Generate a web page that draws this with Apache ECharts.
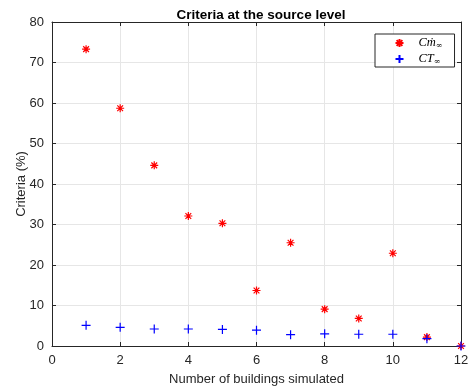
<!DOCTYPE html>
<html><head><meta charset="utf-8">
<script src="https://cdn.jsdelivr.net/npm/echarts@6/dist/echarts.min.js"></script>
<style>html,body{margin:0;padding:0;background:#fff}#c{width:470px;height:390px}</style>
</head><body><div id="c"></div>
<script>
const buildings = [1,2,3,4,5,6,7,8,9,10,11,12];
const cmInf = [73.3,58.7,44.6,32.1,30.3,13.7,25.5,9.1,6.8,22.9,2.2,0];
const ctInf = [5.1,4.6,4.2,4.2,4.1,3.9,2.8,3.0,2.9,2.9,1.8,0];
const xTicks = [0,2,4,6,8,10,12];
const yTicks = [0,10,20,30,40,50,60,70,80];

const chart = echarts.init(document.getElementById('c'));
const font = "'Liberation Sans', Arial, sans-serif";
const axCol = '#262626';
const starPath = 'path://M0,-5L0,5M-5,0L5,0M-3.6,-3.6L3.6,3.6M-3.6,3.6L3.6,-3.6';
const plusPath = 'path://M0,-5L0,5M-5,0L5,0';
function pair(a,b){return a.map((v,i)=>[v,b[i]]);}
const baseX = {type:'value',min:xTicks[0],max:xTicks[xTicks.length-1],interval:2};
const baseY = {type:'value',min:yTicks[0],max:yTicks[yTicks.length-1],interval:10};
chart.setOption({
  animation:false,
  title:{text:'Criteria at the source level',left:256,top:3,textAlign:'center',
    textStyle:{fontFamily:font,fontSize:13.5,fontWeight:'bold',color:'#000'}},
  grid:{left:52,right:9,top:22,bottom:44,outerBoundsMode:'none',containLabel:false},
  xAxis:[
    Object.assign({},baseX,{position:'bottom',name:'Number of buildings simulated',nameLocation:'middle',nameGap:27,
      nameTextStyle:{fontFamily:font,fontSize:13,color:axCol},
      axisLine:{lineStyle:{color:axCol,width:1}},axisTick:{inside:true,length:4,lineStyle:{color:axCol}},
      axisLabel:{fontFamily:font,fontSize:13,color:axCol,margin:8},
      splitLine:{show:true,lineStyle:{color:'#e6e6e6',width:1}}}),
    Object.assign({},baseX,{position:'top',axisLine:{onZero:false,lineStyle:{color:axCol,width:1}},
      axisTick:{inside:true,length:4,lineStyle:{color:axCol}},axisLabel:{show:false},splitLine:{show:false}})
  ],
  yAxis:[
    Object.assign({},baseY,{position:'left',name:'Criteria (%)',nameLocation:'middle',nameGap:24,nameMoveOverlap:false,
      nameTextStyle:{fontFamily:font,fontSize:13,color:axCol},
      axisLine:{show:true,lineStyle:{color:axCol,width:1}},axisTick:{show:true,inside:true,length:4,lineStyle:{color:axCol}},
      axisLabel:{fontFamily:font,fontSize:13,color:axCol,margin:8},
      splitLine:{show:true,lineStyle:{color:'#e6e6e6',width:1}}}),
    Object.assign({},baseY,{position:'right',axisLine:{show:true,onZero:false,lineStyle:{color:axCol,width:1}},
      axisTick:{show:true,inside:true,length:4,lineStyle:{color:axCol}},axisLabel:{show:false},splitLine:{show:false}})
  ],
  legend:{
    orient:'vertical',left:375,top:34,width:85,
    backgroundColor:'#fff',borderColor:axCol,borderWidth:1,borderRadius:0,
    padding:[2,12,1,18],itemGap:2,itemWidth:8,itemHeight:8,
    data:[{name:'Cm'},{name:'CT'}],
    formatter:function(n){return n==='Cm' ? '{g|}{i|C}{i|ṁ}{s|∞}' : '{g|}{i|CT}{s|∞}';},
    textStyle:{rich:{
      g:{width:10,lineHeight:14},
      i:{fontFamily:"'Liberation Serif','DejaVu Serif',serif",fontStyle:'italic',fontSize:12.5,color:'#000',lineHeight:14},
      s:{fontFamily:"'DejaVu Serif',serif",fontSize:8,color:'#000',padding:[6,0,0,0],lineHeight:14}
    }}
  },
  series:[
    {name:'Cm',type:'scatter',data:pair(buildings,cmInf),symbol:starPath,symbolSize:8,
      itemStyle:{color:'none',borderColor:'#ff0000',borderWidth:1.2,opacity:1},z:3},
    {name:'CT',type:'scatter',data:pair(buildings,ctInf),symbol:plusPath,symbolSize:9,
      itemStyle:{color:'none',borderColor:'#0000ff',borderWidth:1.2,opacity:1},z:4}
  ]
});
</script></body></html>
